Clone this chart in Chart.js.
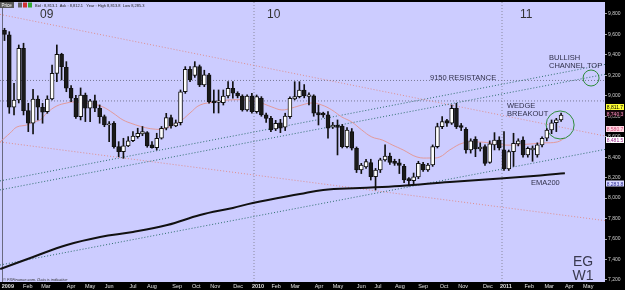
<!DOCTYPE html>
<html>
<head>
<meta charset="utf-8">
<script src="https://cdn.jsdelivr.net/npm/chart.js@4.4.1/dist/chart.umd.min.js"></script>
<style>
html, body { margin: 0; padding: 0; background: #000; }
</style>
</head>
<body>
<canvas id="eg" width="625" height="290"></canvas>
<script>
// weekly EUR/GBP-style candles, Jan 2009 .. Mar 2011 (week index = array index)
var opens = [9640,9595,8888,8959,9465,8855,8732,8969,8888,8845,8969,9220,9406,9279,9074,8976,8796,9008,8878,8950,
  8878,8796,8715,8732,8503,8454,8510,8561,8601,8627,8640,8520,8493,8585,8683,8787,8705,8737,9040,9259,
  9200,9285,9106,9204,8950,8935,8933,8998,9074,9025,8998,8862,8998,8845,8976,8813,8780,8676,8737,8693,
  8796,8969,8992,9057,8995,9000,8835,8830,8813,8693,8715,8705,8503,8650,8487,8275,8305,8347,8210,8275,
  8373,8412,8360,8345,8310,8190,8170,8207,8330,8275,8324,8503,8699,8757,8732,8878,8710,8672,8471,8575,
  8480,8503,8350,8520,8568,8471,8285,8454,8530,8568,8422,8470,8422,8520,8585,8666,8737,8764];
var highs = [9660,9627,9123,9497,9514,8927,9064,9000,8927,9000,9301,9497,9416,9334,9100,9005,9077,9027,8966,9008,
  8911,8812,8748,8748,8552,8585,8601,8650,8683,8700,8650,8552,8634,8700,8829,8812,8764,9057,9285,9285,
  9334,9301,9250,9220,9057,9057,9057,9138,9138,9040,9010,9010,9025,9008,8992,8830,8800,8760,8770,8830,
  8990,9138,9138,9110,9030,9010,8910,8840,8845,8740,8764,8720,8690,8680,8500,8340,8380,8380,8290,8390,
  8520,8440,8380,8380,8330,8200,8245,8360,8350,8340,8520,8732,8796,8770,8910,8927,8730,8690,8580,8600,
  8540,8520,8560,8640,8600,8650,8470,8634,8580,8600,8500,8510,8540,8600,8680,8764,8780,8830];
var lows = [9540,8829,8813,8930,8813,8650,8627,8764,8732,8829,8959,9138,9155,9040,8943,8780,8764,8748,8748,8845,
  8732,8698,8552,8487,8405,8389,8503,8552,8585,8610,8497,8487,8470,8577,8667,8683,8698,8715,9024,9138,
  9180,9090,9090,8927,8832,8832,8910,8980,8978,8980,8850,8850,8830,8830,8800,8740,8650,8660,8640,8660,
  8780,8960,8980,8980,8910,8800,8715,8790,8585,8680,8422,8490,8490,8470,8250,8240,8290,8177,8080,8250,
  8360,8330,8320,8240,8150,8120,8128,8190,8260,8260,8310,8490,8680,8700,8720,8680,8660,8440,8440,8405,
  8460,8320,8340,8471,8470,8270,8270,8310,8510,8400,8400,8360,8400,8500,8560,8630,8650,8750];
var closes = [9600,8888,8959,9465,8855,8732,8969,8888,8839,8969,9220,9406,9285,9074,8976,8796,9008,8878,8950,8878,
  8796,8715,8725,8503,8454,8510,8561,8607,8634,8650,8510,8493,8585,8683,8787,8705,8737,9040,9259,9155,
  9285,9106,9204,8943,8930,8950,8998,9074,9025,8998,8862,8998,8845,8992,8813,8780,8666,8732,8683,8803,
  8976,8992,9057,9000,9010,8830,8813,8813,8683,8715,8690,8503,8666,8487,8275,8324,8356,8210,8275,8373,
  8412,8350,8340,8320,8177,8170,8207,8340,8275,8324,8503,8699,8748,8732,8878,8699,8690,8471,8560,8480,
  8500,8340,8530,8568,8490,8285,8454,8536,8560,8422,8487,8490,8520,8585,8666,8737,8764,8812];

// 20-week average (salmon) and EMA200 (black)
var maWeeks = [-0.9,1.2,2.6,4.7,6,7.5,8.9,11,13.1,14.4,16.5,18.6,20.7,22.8,24.9,27,29.1,31.2,33.3,35.4,37.3,39,41.1,44.3,47,
  50.6,53.3,56.2,58.3,60.4,62.5,64.6,66.7,68.8,70.9,73,75.1,77.2,79.4,81.5,83.8,86.7,89.4,91.5,93.6,96.4,99.3,102.1,104.8,107.7,110.5,113.2,116.2,117.8];
var maValues = [8549,8637,8695,8715,8744,8764,8832,8901,8930,8940,8930,8920,8891,8832,8764,8725,8695,8676,8676,8715,8764,8832,8910,8940,8959,
  8959,8940,8891,8862,8881,8910,8930,8910,8862,8793,8744,8666,8598,8568,8520,8471,8402,8392,8402,8471,8539,8549,8539,8520,8520,8529,8539,8549,8588];
var emaWeeks = [-0.9,6,13.1,20.1,27,34.2,41.1,48,52.2,62.1,67,74.7,83.1,93.6,104.2,112.6,117.8];
var emaValues = [7307,7425,7542,7620,7669,7737,7835,7904,7953,8040,8080,8099,8119,8158,8192,8221,8243];

// trend lines: value at left edge, value at right edge
var xMin = -0.946, xMax = 126.23;
var channelHigh = [9796, 8607];   // pink dotted
var channelLow = [8549, 7780];    // pink dotted
var bullTopA = [8168, 9307];      // teal dotted
var bullTopB = [8080, 9210];
var wedgeLow = [7346, 8476];
var levels = [9150, 8950];
var yearWeeks = [52.45, 104.58];
var circleWeeks = [116.8, 123.3];
var circleValues = [8715, 9174];

var tickWeeks = [0.7,4.9,8.7,14.0,18.0,22.0,27.0,31.0,36.3,40.3,44.3,49.1,53.3,57.1,61.1,66.1,70.1,75.0,78.5,83.1,88.0,92.4,96.4,101.6,105.4,110.3,114.5,118.7,122.7];
var tickLabels = ['2009','Feb','Mar','Apr','May','Jun','Jul','Aug','Sep','Oct','Nov','Dec','2010','Feb','Mar','Apr','May','Jun','Jul','Aug','Sep','Oct','Nov','Dec','2011','Feb','Mar','Apr','May'];
var priceTicks = [7200,7400,7600,7800,8000,8200,8400,8600,8800,9000,9200,9400,9600,9800];

var yMin = 7180, yMax = 9917;

function seg(v) {
  return [{x: xMin, y: v[0]}, {x: xMax, y: v[1]}];
}
function dotted(data, color, label) {
  return {type: 'line', label: label, data: data, borderColor: color, borderWidth: 1, borderDash: [1, 2],
    pointRadius: 0, tension: 0, order: 5};
}

var bodies = opens.map(function(o, i) { return {x: i, y: [o, closes[i]]}; });
var wicks = highs.map(function(h, i) { return {x: i, y: [lows[i], h]}; });
var bodyFill = opens.map(function(o, i) { return closes[i] >= o ? '#ffffff' : '#1a1a1a'; });

var datasets = [
  {type: 'bar', label: 'body', data: bodies, backgroundColor: bodyFill, borderColor: '#111', borderWidth: 1,
    borderSkipped: false, barThickness: 4, grouped: false, order: 0},
  {type: 'bar', label: 'wick', data: wicks, backgroundColor: '#111', borderWidth: 0,
    barThickness: 1, grouped: false, order: 1},
  {type: 'line', label: 'MA', data: maWeeks.map(function(w, i) { return {x: w, y: maValues[i]}; }),
    borderColor: '#e39a9a', borderWidth: 1, pointRadius: 0, tension: 0.4, order: 3},
  {type: 'line', label: 'EMA200', data: emaWeeks.map(function(w, i) { return {x: w, y: emaValues[i]}; }),
    borderColor: '#111', borderWidth: 2, pointRadius: 0, tension: 0.4, order: 3},
  dotted(seg(channelHigh), '#df8f8f', 'ch'),
  dotted(seg(channelLow), '#df8f8f', 'cl'),
  dotted(seg(bullTopA), '#2f6f6f', 'a'),
  dotted(seg(bullTopB), '#2f6f6f', 'b'),
  dotted(seg(wedgeLow), '#2f6f6f', 'c'),
  {type: 'line', label: 'circles', data: circleWeeks.map(function(w, i) { return {x: w, y: circleValues[i]}; }),
    showLine: false, pointRadius: [14, 8], pointBorderColor: '#2e8b3a', pointBackgroundColor: 'rgba(0,0,0,0)',
    pointBorderWidth: 1, order: 2}
];
levels.forEach(function(l) {
  datasets.push(dotted(seg([l, l]), '#7a7a96', 'lvl'));
});
yearWeeks.forEach(function(w) {
  datasets.push(dotted([{x: w, y: yMin}, {x: w, y: yMax}], '#8a8aa0', 'yr'));
});

function txt(ctx, s, x, y, font, color, align) {
  ctx.font = font;
  ctx.fillStyle = color;
  ctx.textAlign = align || 'left';
  ctx.fillText(s, x, y);
}

var frame = {
  id: 'frame',
  beforeDraw: function(chart) {
    var ctx = chart.ctx, a = chart.chartArea;
    ctx.save();
    ctx.fillStyle = '#000';
    ctx.fillRect(0, 0, chart.width, chart.height);
    ctx.fillStyle = '#ccccff';
    ctx.fillRect(a.left, a.top, a.right - a.left, a.bottom - a.top);
    ctx.fillStyle = '#6a6a80';
    ctx.fillRect(a.left + 2, a.top, 1, a.bottom - a.top);
    ctx.restore();
  },
  afterDraw: function(chart) {
    var ctx = chart.ctx;
    var f = 'Liberation Sans, Arial, sans-serif';
    ctx.save();
    // toolbar
    ctx.fillStyle = '#555';
    ctx.fillRect(0, 2, 14, 6);
    txt(ctx, 'Price', 1.5, 7, '4.5px ' + f, '#fff');
    ctx.fillStyle = '#666'; ctx.fillRect(18, 2.5, 4, 5);
    ctx.fillStyle = '#c33'; ctx.fillRect(23, 2.5, 4, 5);
    ctx.fillStyle = '#3a3'; ctx.fillRect(28, 2.5, 4, 5);
    txt(ctx, 'Bid : 8,813.1  Ask : 8,812.1   Year : High 8,813.8  Low 8,285.3', 35, 7, '4px ' + f, '#222');
    // year markers
    txt(ctx, '09', 40, 18, '12px ' + f, '#333');
    txt(ctx, '10', 267, 18, '12px ' + f, '#333');
    txt(ctx, '11', 520, 18, '12px ' + f, '#333');
    // annotations
    var af = '7.5px ' + f, ac = '#30304a';
    txt(ctx, 'BULLISH', 549, 60, af, ac);
    txt(ctx, 'CHANNEL TOP', 549, 67.5, af, ac);
    txt(ctx, '9150 RESISTANCE', 430, 79.5, af, ac);
    txt(ctx, 'WEDGE', 507, 108, af, ac);
    txt(ctx, 'BREAKOUT', 507, 116, af, ac);
    txt(ctx, 'EMA200', 531, 185, af, ac);
    txt(ctx, 'EG', 583, 266, '14px ' + f, '#3a3a50', 'center');
    txt(ctx, 'W1', 583, 280, '14px ' + f, '#3a3a50', 'center');
    txt(ctx, '\u00a9 FXFinance.com. Data is indicative', 3, 280.5, 'italic 4px ' + f, '#333');
    // price boxes on the right axis
    var boxes = [
      ['8,811.7', 107, '#ffff33', '#000'],
      ['8,740.3', 113.5, '#1a0a10', '#ff8fbf'],
      ['8,580.7', 129, '#ffd6e2', '#d04a78'],
      ['8,481.5', 140, '#ffffff', '#9a2a8a'],
      ['8,283.8', 183.5, '#d8d8ff', '#2a2a90']
    ];
    boxes.forEach(function(b) {
      ctx.fillStyle = b[2];
      ctx.fillRect(606, b[1] - 3, 18, 6);
      txt(ctx, b[0], 615, b[1] + 2, '5px ' + f, b[3], 'center');
    });
    ctx.restore();
  }
};

function noPad(s) {
  s.paddingLeft = 0; s.paddingRight = 0; s.paddingTop = 0; s.paddingBottom = 0;
}

Chart.defaults.font.family = 'Liberation Sans, Arial, sans-serif';

new Chart(document.getElementById('eg').getContext('2d'), {
  type: 'bar',
  data: {datasets: datasets},
  options: {
    responsive: false,
    animation: false,
    devicePixelRatio: 1,
    layout: {autoPadding: false, padding: {top: 2, left: 0, right: 0, bottom: 0}},
    plugins: {legend: {display: false}, tooltip: {enabled: false}},
    scales: {
      x: {
        type: 'linear',
        min: xMin,
        max: xMax,
        offset: false,
        grid: {drawOnChartArea: false, drawTicks: false},
        border: {display: false},
        afterBuildTicks: function(s) {
          s.ticks = tickWeeks.map(function(w) { return {value: w}; });
        },
        afterFit: function(s) { s.height = 8; noPad(s); },
        ticks: {
          autoSkip: false,
          maxRotation: 0,
          padding: 1,
          color: '#e0e0e0',
          font: function(c) {
            var lab = tickLabels[c.index] || '';
            return {size: 5.5, weight: lab.length === 4 ? 'bold' : 'normal'};
          },
          callback: function(v, i) { return tickLabels[i]; }
        }
      },
      y: {
        type: 'linear',
        position: 'right',
        min: yMin,
        max: yMax,
        grid: {drawOnChartArea: false, drawTicks: true, tickLength: 2, color: '#aaa'},
        border: {display: false},
        afterBuildTicks: function(s) {
          s.ticks = priceTicks.map(function(v) { return {value: v}; });
        },
        afterFit: function(s) { s.width = 20; noPad(s); },
        ticks: {
          padding: 1,
          color: '#cfcfcf',
          font: {size: 5},
          callback: function(v) { return v.toLocaleString('en-US'); }
        }
      }
    }
  },
  plugins: [frame]
});
</script>
</body>
</html>
